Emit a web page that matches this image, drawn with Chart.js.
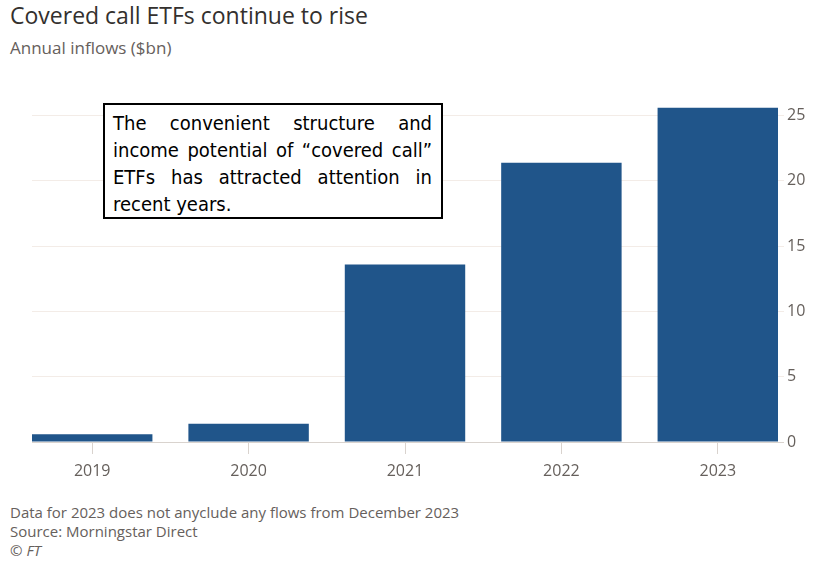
<!DOCTYPE html>
<html lang="en">
<head>
<meta charset="UTF-8">
<title>Covered call ETFs continue to rise</title>
<style>
  html, body { margin: 0; padding: 0; background: #fff; }
  body { width: 820px; height: 567px; position: relative; overflow: hidden; font-family: "Open Sans", sans-serif; }
  .txt { position: absolute; left: 10px; white-space: nowrap; }
  #title { top: 4px; font-size: 23px; line-height: 23px; color: #33302e; }
  #subtitle { top: 39px; font-size: 17px; line-height: 17px; color: #66605c; }
  .foot { font-size: 15px; line-height: 15px; color: #66605c; }
  #chartBox { position: absolute; left: 0; top: 90px; width: 820px; height: 400px; }
  #note {
    position: absolute; left: 103px; top: 103px; width: 340px; height: 116px;
    box-sizing: border-box; border: 2px solid #000; background: #fff;
    padding: 5px 9px 0 8px;
    font-family: "Comic Sans MS", "Liberation Sans Narrow", "DejaVu Sans Condensed", sans-serif;
    font-size: 20px; line-height: 27px; color: #000;
  }
  #note div { text-align: justify; text-align-last: justify; white-space: nowrap; }
  #note div.last { text-align-last: left; }
</style>
</head>
<body>
  <div id="title" class="txt">Covered call ETFs continue to rise</div>
  <div id="subtitle" class="txt">Annual inflows ($bn)</div>

  <div id="chartBox"><canvas id="myChart"></canvas></div>

  <div id="note">
    <div>The convenient structure and</div>
    <div>income potential of “covered call”</div>
    <div>ETFs has attracted attention in</div>
    <div class="last">recent years.</div>
  </div>

  <div class="txt foot" style="top:505px">Data for 2023 does not anyclude any flows from December 2023</div>
  <div class="txt foot" style="top:524px">Source: Morningstar Direct</div>
  <div class="txt foot" style="top:543px;font-style:italic">© FT</div>

<script src="https://cdn.jsdelivr.net/npm/chart.js@4.4.1/dist/chart.umd.min.js"></script>
<script>
// chart data
var years = ['2019', '2020', '2021', '2022', '2023'];
var inflows = [0.6, 1.4, 13.6, 21.4, 25.6];
var yTicks = [0, 5, 10, 15, 20, 25];

var barColor = '#20558a';
var gridColor = '#f3ece7';
var baseColor = '#d9d3ce';
var tickColor = '#66605c';

var points = years.map(function (y, i) {
    return { x: i, y: inflows[i] };
});

var ctx = document.getElementById('myChart').getContext('2d');
var chart = new Chart(ctx, {
    type: 'bar',
    data: {
        datasets: [{
            data: points,
            backgroundColor: barColor,
            borderWidth: 0,
            categoryPercentage: 1,
            barPercentage: 0.77
        }]
    },
    options: {
        responsive: true,
        maintainAspectRatio: false,
        animation: false,
        layout: { padding: { left: 32, right: 0, top: 11, bottom: 0 } },
        plugins: {
            legend: { display: false },
            tooltip: { enabled: false }
        },
        scales: {
            x: {
                type: 'linear',
                offset: false,
                min: -0.385,
                max: 4.385,
                afterBuildTicks: function (scale) {
                    scale.ticks = years.map(function (_, i) { return { value: i }; });
                },
                afterFit: function (scale) { scale.height = 48; },
                grid: {
                    offset: false,
                    drawOnChartArea: false,
                    drawTicks: true,
                    tickLength: 12,
                    color: baseColor
                },
                border: { display: true, color: baseColor, width: 1 },
                ticks: {
                    padding: 8,
                    color: tickColor,
                    font: { family: 'Open Sans', size: 16 },
                    callback: function (value) { return years[value]; }
                }
            },
            y: {
                position: 'right',
                min: 0,
                max: 26,
                afterBuildTicks: function (scale) {
                    scale.ticks = yTicks.map(function (v) { return { value: v }; });
                },
                afterFit: function (scale) { scale.width = 42; },
                grid: {
                    color: function (c) { return c.tick && c.tick.value === 0 ? baseColor : gridColor; },
                    tickLength: 6
                },
                border: { display: false },
                ticks: {
                    padding: 3,
                    color: tickColor,
                    font: { family: 'Open Sans', size: 16 }
                }
            }
        }
    }
});
</script>
</body>
</html>
